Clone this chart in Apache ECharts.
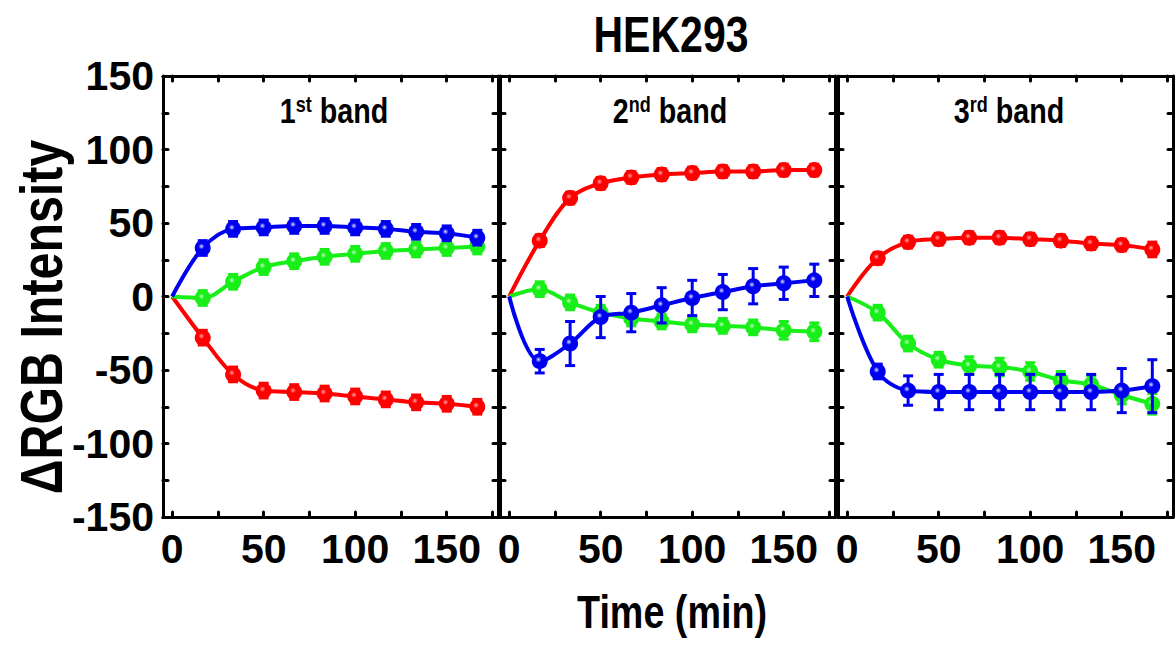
<!DOCTYPE html>
<html>
<head>
<meta charset="utf-8">
<title>HEK293</title>
<script src="https://cdn.jsdelivr.net/npm/echarts@6/dist/echarts.min.js"></script>
<style>
  html, body { margin: 0; padding: 0; background: #fff; }
  #chart { width: 1176px; height: 648px; }
</style>
</head>
<body>
<div id="chart"></div>
<script>
// Sampling times (min)
const timeMin = [0, 16.7, 33.3, 50, 66.7, 83.3, 100, 116.7, 133.3, 150, 166.7];

// 1st band: ΔR, ΔG, ΔB and their error bars
const red1 = [0, -28, -53, -64, -65, -66, -68, -70, -72, -73, -75];
const green1 = [0, -1, 10, 20, 24, 27, 29, 31, 32, 33, 34];
const blue1 = [0, 33, 46, 47, 48, 48, 47, 46, 44, 43, 40];
const red1Err = [0, 5, 5, 5, 5, 5, 5, 5, 5, 5, 5];
const green1Err = [0, 5, 5, 5, 5, 5, 5, 5, 5, 5, 5];
const blue1Err = [0, 5, 5, 5, 5, 5, 5, 5, 5, 5, 5];

// 2nd band
const red2 = [0, 38, 67, 77, 81, 83, 84, 85, 85, 86, 86];
const green2 = [0, 5, -4, -11, -15, -17, -19, -20, -21, -23, -24];
const blue2 = [0, -44, -32, -14, -11, -6, -1, 3, 7, 9, 11];
const red2Err = [0, 4, 4, 4, 4, 4, 4, 4, 4, 4, 4];
const green2Err = [0, 5, 5, 5, 5, 5, 5, 5, 5, 6, 6];
const blue2Err = [0, 8, 15, 14, 13, 12, 12, 12, 12, 11, 11];

// 3rd band
const red3 = [0, 26, 37, 39, 40, 40, 39, 38, 36, 35, 32];
const green3 = [0, -11, -32, -43, -47, -48, -51, -57, -60, -67, -73];
const blue3 = [0, -51, -64, -65, -65, -65, -65, -65, -65, -64, -61];
const red3Err = [0, 4, 4, 4, 4, 4, 4, 4, 4, 4, 5];
const green3Err = [0, 5, 5, 5, 6, 6, 6, 6, 6, 6, 7];
const blue3Err = [0, 5, 10, 12, 12, 12, 12, 12, 12, 15, 18];

// Panel labels (number + ordinal suffix)
const bandNumbers = ['1', '2', '3'];
const bandSuffixes = ['st', 'nd', 'rd'];

// Axis ticks and labels
const xLabelValues = [0, 50, 100, 150];
const xTickValues = [0, 25, 50, 75, 100, 125, 150, 175];
const yLabelValues = [-150, -100, -50, 0, 50, 100, 150];
const yTickValues = [-150, -125, -100, -75, -50, -25, 0, 25, 50, 75, 100, 125, 150];

const chartTitle = 'HEK293';
const xTitle = 'Time (min)';
const yTitle = 'ΔRGB Intensity';

const FONT = "'Liberation Sans Narrow', 'Arial Narrow', 'Liberation Sans', Arial, sans-serif";
const NARROW = 0.82; // horizontal squeeze for the condensed headline lettering

const bands = [
  { r: red1, g: green1, b: blue1, rE: red1Err, gE: green1Err, bE: blue1Err },
  { r: red2, g: green2, b: blue2, rE: red2Err, gE: green2Err, bE: blue2Err },
  { r: red3, g: green3, b: blue3, rE: red3Err, gE: green3Err, bE: blue3Err }
];

const COLORS = {
  r: { base: '#ff0000', light: '#ffa0a0' },
  g: { base: '#18ee18', light: '#c0ffc0' },
  b: { base: '#0000f0', light: '#d8dcff' }
};

const gridLefts = [163, 500, 838];
const gridWidth = 335;
const gridTop = 76;
const gridHeight = 441;

function ballFill(c) {
  return {
    type: 'radial', x: 0.42, y: 0.4, r: 0.62,
    colorStops: [
      { offset: 0, color: c.light },
      { offset: 0.3, color: c.base },
      { offset: 1, color: c.base }
    ]
  };
}

function errorBarItem(params, api) {
  const x = api.value(0), y = api.value(1), e = api.value(2);
  if (!e) return null;
  const hi = api.coord([x, y + e]);
  const lo = api.coord([x, y - e]);
  const cap = 5;
  const style = { stroke: api.visual('color'), lineWidth: 3 };
  return {
    type: 'group',
    children: [
      { type: 'line', shape: { x1: hi[0], y1: hi[1], x2: lo[0], y2: lo[1] }, style: style },
      { type: 'line', shape: { x1: hi[0] - cap, y1: hi[1], x2: hi[0] + cap, y2: hi[1] }, style: style },
      { type: 'line', shape: { x1: lo[0] - cap, y1: lo[1], x2: lo[0] + cap, y2: lo[1] }, style: style }
    ]
  };
}

const frameLine = { show: true, onZero: false, lineStyle: { color: '#000', width: 3 } };
const innerTick = (vals) => ({
  show: true, inside: true, length: 5, customValues: vals,
  lineStyle: { color: '#000', width: 3, cap: 'round' }
});
const tickLabelStyle = {
  color: '#000', fontSize: 41, fontWeight: 'bold', fontFamily: FONT
};

const grids = [], xAxes = [], yAxes = [], series = [];

gridLefts.forEach((left, i) => {
  grids.push({ left: left, top: gridTop, width: gridWidth, height: gridHeight, containLabel: false });

  // bottom axis (data) and top axis (frame)
  xAxes.push({
    gridIndex: i, type: 'value', min: -5, max: 178, position: 'bottom',
    axisLine: frameLine, axisTick: innerTick(xTickValues),
    axisLabel: Object.assign({ show: true, margin: 11, customValues: xLabelValues }, tickLabelStyle),
    splitLine: { show: false }
  });
  xAxes.push({
    gridIndex: i, type: 'value', min: -5, max: 178, position: 'top',
    axisLine: frameLine, axisTick: innerTick(xTickValues),
    axisLabel: { show: false }, splitLine: { show: false }
  });
  // left axis (data) and right axis (frame)
  yAxes.push({
    gridIndex: i, type: 'value', min: -150, max: 150, position: 'left',
    axisLine: frameLine, axisTick: innerTick(yTickValues),
    axisLabel: Object.assign({ show: i === 0, margin: 9, customValues: yLabelValues }, tickLabelStyle),
    splitLine: { show: false }
  });
  yAxes.push({
    gridIndex: i, type: 'value', min: -150, max: 150, position: 'right',
    axisLine: frameLine, axisTick: innerTick(yTickValues),
    axisLabel: { show: false }, splitLine: { show: false }
  });

  const band = bands[i];
  const order = [['r', band.r, band.rE], ['g', band.g, band.gE], ['b', band.b, band.bE]];
  order.forEach(([key, vals, errs], k) => {
    const c = COLORS[key];
    const zBase = 2 + k * 2;
    series.push({
      type: 'custom', xAxisIndex: i * 2, yAxisIndex: i * 2,
      renderItem: errorBarItem, color: c.base, z: zBase, silent: true,
      data: timeMin.map((t, j) => [t, vals[j], errs[j]])
    });
    series.push({
      type: 'line', xAxisIndex: i * 2, yAxisIndex: i * 2,
      smooth: 0.35, z: zBase + 1, silent: true,
      symbol: 'circle', symbolSize: 16,
      lineStyle: { color: c.base, width: 4 },
      itemStyle: { color: ballFill(c), borderWidth: 0 },
      data: timeMin.map((t, j) => j === 0 ? { value: [t, vals[j]], symbol: 'none' } : [t, vals[j]])
    });
  });
});

const panelCenters = [334, 670, 1009];
const graphics = [
  {
    type: 'text', x: 671, y: 35, scaleX: NARROW,
    style: { text: chartTitle, align: 'center', verticalAlign: 'middle',
      fontSize: 50, fontWeight: 'bold', fontFamily: FONT, fill: '#000' }
  },
  {
    type: 'text', x: 672, y: 612, scaleX: NARROW,
    style: { text: xTitle, align: 'center', verticalAlign: 'middle',
      fontSize: 46, fontWeight: 'bold', fontFamily: FONT, fill: '#000' }
  },
  {
    type: 'text', x: 41, y: 317, rotation: Math.PI / 2, scaleX: NARROW,
    style: { text: yTitle, align: 'center', verticalAlign: 'middle',
      fontSize: 59, fontWeight: 'bold', fontFamily: FONT, fill: '#000' }
  }
];
panelCenters.forEach((cx, i) => {
  graphics.push({
    type: 'text', x: cx, y: 111, z: 20, scaleX: NARROW,
    style: {
      text: '{n|' + bandNumbers[i] + '}{s|' + bandSuffixes[i] + '}{n| band}',
      align: 'center', verticalAlign: 'middle',
      rich: {
        n: { fontSize: 35, fontWeight: 'bold', fontFamily: FONT, fill: '#000', lineHeight: 35 },
        s: { fontSize: 22, fontWeight: 'bold', fontFamily: FONT, fill: '#000', verticalAlign: 'top', lineHeight: 22 }
      }
    }
  });
});

const chart = echarts.init(document.getElementById('chart'), null, { renderer: 'svg' });
chart.setOption({
  backgroundColor: '#fff',
  animation: false,
  grid: grids,
  xAxis: xAxes,
  yAxis: yAxes,
  series: series,
  graphic: graphics
});
</script>
</body>
</html>
